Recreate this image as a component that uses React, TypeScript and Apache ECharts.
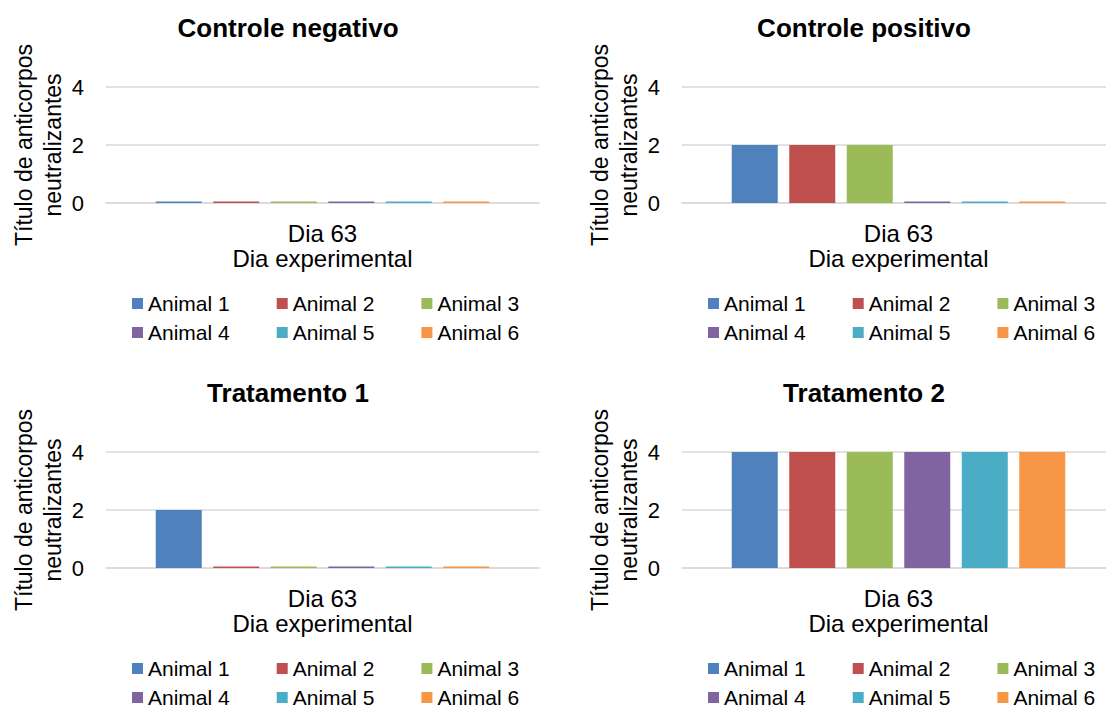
import React, { useEffect, useRef } from "react";
import * as echarts from "echarts";

const panelTitles = ["Controle negativo", "Controle positivo", "Tratamento 1", "Tratamento 2"];
const categories = ["Dia 63"];
const animals = ["Animal 1", "Animal 2", "Animal 3", "Animal 4", "Animal 5", "Animal 6"];
const controleNegativo = [0.05, 0.05, 0.05, 0.05, 0.05, 0.05];
const controlePositivo = [2, 2, 2, 0.05, 0.05, 0.05];
const tratamento1 = [2, 0.05, 0.05, 0.05, 0.05, 0.05];
const tratamento2 = [4, 4, 4, 4, 4, 4];
const yTicks = { min: 0, max: 4, interval: 2 };
const colors = ["#4F81BD", "#C0504D", "#9BBB59", "#8064A2", "#4BACC6", "#F79646"];

const FONT = "'Liberation Sans', Arial, sans-serif";

export default function App() {
  const ref = useRef<HTMLDivElement>(null);
  useEffect(() => {
    document.body.style.margin = "0";
    if (!ref.current) return;
    const chart = echarts.init(ref.current, null, { renderer: "svg" });
    const panels = [controleNegativo, controlePositivo, tratamento1, tratamento2];
    const grid: any[] = [];
    const xAxis: any[] = [];
    const yAxis: any[] = [];
    const title: any[] = [];
    const legend: any[] = [];
    const series: any[] = [];
    panels.forEach((vals, p) => {
      const dx = (p % 2) * 576;
      const dy = Math.floor(p / 2) * 365;
      grid.push({ left: 106 + dx, top: 87 + dy, width: 433, height: 116 });
      title.push({
        text: panelTitles[p],
        left: 288 + dx,
        top: 15 + dy,
        textAlign: "center",
        padding: 0,
        textStyle: { fontFamily: FONT, fontSize: 26, fontWeight: "bold", color: "#000" },
      });
      xAxis.push({
        type: "category",
        gridIndex: p,
        data: categories,
        axisTick: { show: false },
        axisLine: { lineStyle: { color: "#d9d9d9", width: 1.5 } },
        axisLabel: { fontFamily: FONT, fontSize: 24, color: "#000", margin: 18 },
        name: "Dia experimental",
        nameLocation: "middle",
        nameGap: 43,
        nameTextStyle: { fontFamily: FONT, fontSize: 24, color: "#000" },
      });
      yAxis.push({
        type: "value",
        gridIndex: p,
        min: yTicks.min,
        max: yTicks.max,
        interval: yTicks.interval,
        axisLine: { show: false },
        axisTick: { show: false },
        splitLine: { lineStyle: { color: "#d9d9d9", width: 1.5 } },
        axisLabel: { fontFamily: FONT, fontSize: 22, color: "#000", margin: 22 },
        name: "Título de anticorpos\nneutralizantes",
        nameLocation: "middle",
        nameGap: 38,
        nameTextStyle: { fontFamily: FONT, fontSize: 23, color: "#000", lineHeight: 29 },
      });
      [0, 1].forEach((r) => {
        legend.push({
          left: 132 + dx,
          top: 293 + r * 29 + dy,
          padding: 0,
          itemWidth: 11,
          itemHeight: 11,
          itemGap: 47,
          icon: "rect",
          selectedMode: false,
          textStyle: { fontFamily: FONT, fontSize: 21, color: "#000" },
          data: animals.slice(r * 3, r * 3 + 3),
        });
      });
      animals.forEach((name, k) => {
        series.push({
          type: "bar",
          name,
          xAxisIndex: p,
          yAxisIndex: p,
          data: [vals[k]],
          barWidth: 46,
          barGap: "25%",
          itemStyle: { color: colors[k] },
        });
      });
    });
    chart.setOption({
      animation: false,
      backgroundColor: "#fff",
      title,
      grid,
      xAxis,
      yAxis,
      legend,
      series,
    });
    return () => chart.dispose();
  }, []);
  return (
    <div style={{ width: 1106, height: 708, overflow: "hidden" }}>
      <div ref={ref} style={{ width: 1130, height: 708 }} />
    </div>
  );
}
